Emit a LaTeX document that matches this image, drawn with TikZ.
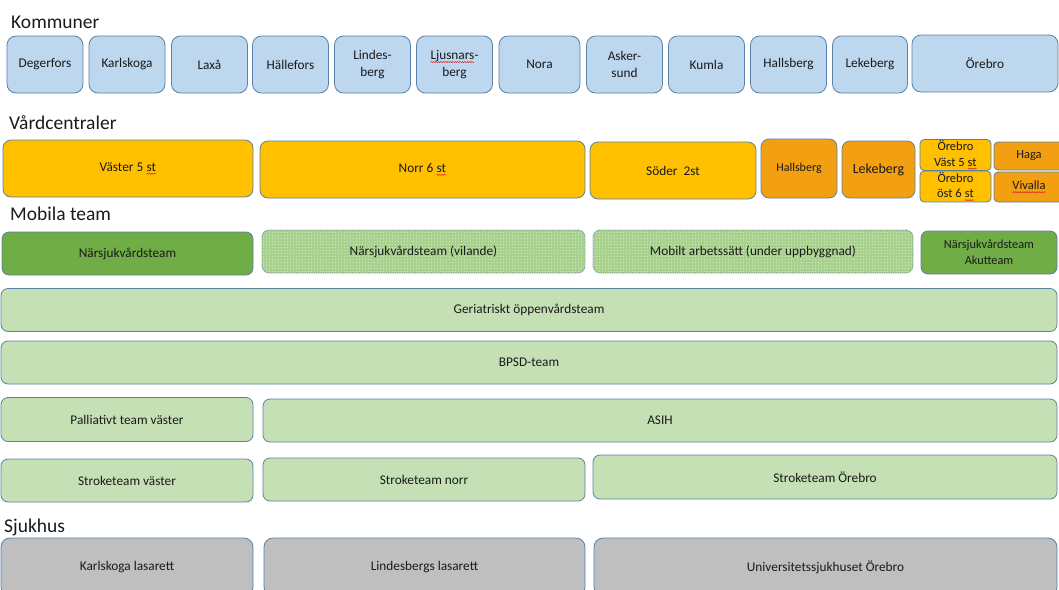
\documentclass[tikz,border=0pt]{standalone}
\usepackage{fontspec}
\setmainfont{Carlito}
\usetikzlibrary{patterns,decorations.pathmorphing}

\definecolor{edge}{HTML}{5A81A6}
\definecolor{ink}{HTML}{1A1A1A}
\definecolor{kblue}{HTML}{BDD7EE}
\definecolor{gold}{HTML}{FFC000}
\definecolor{amber}{HTML}{F2A012}
\definecolor{dgreen}{HTML}{70AD47}
\definecolor{lgreen}{HTML}{C5E0B4}
\definecolor{mgreen}{HTML}{A9D18E}
\definecolor{lgrey}{HTML}{BFBFBF}
\definecolor{squig}{HTML}{E02020}

% fine grid of round dots for the inactive team boxes
\pgfdeclarepatternformonly{finedots}{\pgfpointorigin}{\pgfpoint{3.2pt}{3.2pt}}{\pgfpoint{3.2pt}{3.2pt}}
  {\pgfpathcircle{\pgfpoint{1.6pt}{1.6pt}}{0.55pt}\pgfusepath{fill}}

% word with a wavy red underline
\newcommand\typo[1]{\tikz[baseline=(tw.base), x=1pt, y=1pt, sharp corners, solid]{%
  \node[inner sep=0pt,outer sep=0pt,draw=none,fill=none,minimum size=0pt,anchor=center] (tw) {#1};%
  \draw[squig, line width=0.5pt, decorate, decoration={snake, amplitude=0.55pt, segment length=2.4pt}]
    ([yshift=-2.6pt]tw.base west) -- ([yshift=-2.6pt]tw.base east);}}

\begin{document}
\begin{tikzpicture}[x=1pt,y=-1pt,
  cell/.style={draw=edge, line width=0.8pt, rounded corners=7pt, inner sep=1pt,
    outer sep=0pt, align=center, text=ink, font=\fontsize{13.3}{17}\selectfont},
  kommun/.style={cell, fill=kblue, rounded corners=9pt},
  vc/.style={cell, fill=gold, rounded corners=8pt},
  vcalt/.style={cell, fill=amber, rounded corners=8pt},
  small/.style={font=\fontsize{12.5}{15.5}\selectfont, rounded corners=4pt},
  teamdark/.style={cell, fill=dgreen},
  team/.style={cell, fill=lgreen},
  idle/.style={cell, densely dotted, preaction={fill=mgreen}, pattern=finedots, pattern color=white!85!mgreen},
  hosp/.style={cell, fill=lgrey, rounded corners=9pt},
  heading/.style={anchor=base west, inner sep=0pt, text=ink, font=\fontsize{19.5}{22}\selectfont}]

\useasboundingbox (0,0) rectangle (1059,589);
\clip (0,0) rectangle (1059,589);

% ---- municipalities
\node[heading] (hkom) at (11,28) {Kommuner};
\node[kommun, minimum width=76pt, minimum height=57pt] (degerfors) at (45,64.5) {Degerfors};
\node[kommun, minimum width=76pt, minimum height=57pt] (karlskoga) at (127,64.5) {Karlskoga};
\node[kommun, minimum width=76pt, minimum height=57pt] (laxa) at (209.5,64.5) {Laxå};
\node[kommun, minimum width=76pt, minimum height=57pt] (hallefors) at (290.5,64.5) {Hällefors};
\node[kommun, minimum width=76pt, minimum height=57pt] (lindesberg) at (372.5,64.5) {Lindes-\\berg};
\node[kommun, minimum width=76pt, minimum height=57pt] (ljusnarsberg) at (454.5,64.5) {\typo{Ljusnars}-\\berg};
\node[kommun, minimum width=81pt, minimum height=57pt] (nora) at (539.5,64.5) {Nora};
\node[kommun, minimum width=76pt, minimum height=57pt] (askersund) at (624.5,64.5) {Asker-\\sund};
\node[kommun, minimum width=76pt, minimum height=57pt] (kumla) at (706.5,64.5) {Kumla};
\node[kommun, minimum width=76pt, minimum height=57pt] (hallsberg) at (788.5,64.5) {Hallsberg};
\node[kommun, minimum width=75pt, minimum height=57pt] (lekeberg) at (870,64.5) {Lekeberg};
\node[kommun, minimum width=146pt, minimum height=57pt] (orebro) at (985,63.5) {Örebro};

% ---- health centres
\node[heading] (hvc) at (9,129) {Vårdcentraler};
\node[vc, minimum width=250pt, minimum height=57pt] (vaster) at (128,168.5) {Väster 5 \typo{st}};
\node[vc, minimum width=325pt, minimum height=57pt] (norr) at (422.5,169.5) {Norr 6 \typo{st}};
\node[vc, minimum width=166pt, minimum height=57pt] (soder) at (673,170.5) {Söder~~2st};
\node[vcalt, minimum width=76pt, minimum height=59pt, font=\fontsize{12}{15}\selectfont, text depth=3pt] (vchallsberg) at (799,168.5) {Hallsberg};
\node[vcalt, minimum width=73pt, minimum height=57pt, font=\fontsize{14}{17}\selectfont] (vclekeberg) at (878.5,169.5) {Lekeberg};
\node[vc, small, minimum width=71pt, minimum height=28pt] (orebrovast) at (955.5,155) {Örebro\\Väst 5 \typo{st}};
\node[vc, small, minimum width=71pt, minimum height=29pt] (orebroost) at (955.5,186.5) {Örebro\\öst 6 \typo{st}};
\node[vcalt, small, minimum width=70pt, minimum height=28pt] (haga) at (1029,156) {Haga};
\node[vcalt, small, minimum width=70pt, minimum height=30pt] (vivalla) at (1029,187) {\typo{Vivalla}};

% ---- mobile teams
\node[heading] (hmob) at (10,220) {Mobila team};
\node[teamdark, minimum width=251pt, minimum height=43pt] (narsjuk) at (127.5,253.5) {Närsjukvårdsteam};
\node[idle, minimum width=323pt, minimum height=43pt] (vilande) at (423.5,251.5) {Närsjukvårdsteam (vilande)};
\node[idle, minimum width=320pt, minimum height=43pt] (mobilt) at (753,251.5) {Mobilt arbetssätt (under uppbyggnad)};
\node[teamdark, minimum width=136pt, minimum height=43pt, font=\fontsize{12.3}{16}\selectfont] (akut) at (989,252.5) {Närsjukvårdsteam\\Akutteam};

\node[team, minimum width=1056pt, minimum height=43pt] (geriatrisk) at (529,310) {Geriatriskt öppenvårdsteam};
\node[team, minimum width=1056pt, minimum height=43pt] (bpsd) at (529,362.5) {BPSD-team};
\node[team, minimum width=252pt, minimum height=44pt] (palliativ) at (127,419.5) {Palliativt team väster};
\node[team, minimum width=794pt, minimum height=43pt] (asih) at (660,420.5) {ASIH};
\node[team, minimum width=252pt, minimum height=43pt] (strokev) at (127,480.5) {Stroketeam väster};
\node[team, minimum width=322pt, minimum height=43pt] (straken) at (424,479.5) {Stroketeam norr};
\node[team, minimum width=464pt, minimum height=44pt] (strokeo) at (825,477) {Stroketeam Örebro};

% ---- hospitals
\node[heading] (hsjuk) at (4,532) {Sjukhus};
\node[hosp, minimum width=252pt, minimum height=58pt] (karlskogalas) at (127,567) {Karlskoga lasarett};
\node[hosp, minimum width=321pt, minimum height=58pt] (lindesberglas) at (424.5,567) {Lindesbergs lasarett};
\node[hosp, minimum width=463pt, minimum height=58pt] (uso) at (825.5,567) {Universitetssjukhuset Örebro};
\end{tikzpicture}
\end{document}
